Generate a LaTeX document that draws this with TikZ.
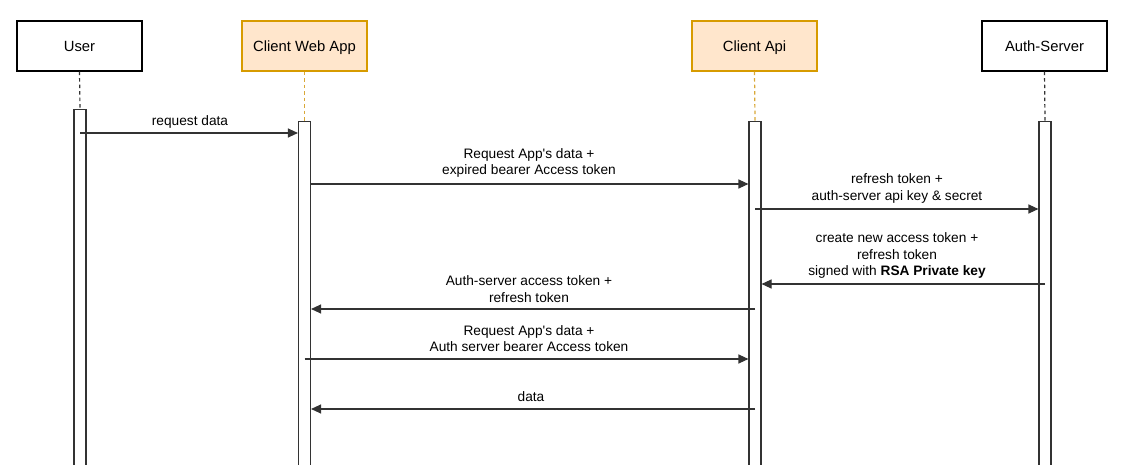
\documentclass[tikz,border=0pt]{standalone}
\usepackage{fontspec}
\setmainfont{Liberation Sans}
\usetikzlibrary{arrows.meta}
\definecolor{orfill}{HTML}{FFE6CC}
\definecolor{orline}{HTML}{D79B00}
\definecolor{dashor}{HTML}{D9A838}
\definecolor{ln}{HTML}{333333}
\begin{document}
\begin{tikzpicture}[x=1pt,y=-1pt,
 actor/.style={draw=black, line width=1.1pt, minimum width=125pt, minimum height=50pt, font=\fontsize{14.8}{17}\selectfont, inner sep=0pt, text height=10.6pt, text depth=0pt, fill=white},
 oractor/.style={actor, draw=orline, fill=orfill},
 bar/.style={draw=ln, line width=1.1pt, fill=white, minimum width=12pt, minimum height=360pt, inner sep=0pt, anchor=north},
 life/.style={line width=1.2pt, dash pattern=on 3.5pt off 3pt, draw=ln},
 orlife/.style={life, draw=dashor},
 msg/.style={draw=ln, line width=1.1pt, -{Triangle[length=10pt,width=9pt]}},
 lbl/.style={font=\fontsize{13.7}{16.5}\selectfont, align=center, inner sep=0pt}
]
\useasboundingbox (0,0) rectangle (1127,465);
\clip (0,0) rectangle (1127,465);
\fill[white] (0,0) rectangle (1127,465);
% actors
\node[actor] (user) at (79.5,46) {User};
\node[oractor] (web) at (304.5,46) {Client Web App};
\node[oractor] (api) at (754.5,46) {Client Api};
\node[actor] (auth) at (1044.5,46) {Auth-Server};
% activation bars
\node[bar] (ubar) at (80,109) {};
\node[bar] (wbar) at (304.5,121) {};
\node[bar] (abar) at (755,121) {};
\node[bar] (sbar) at (1045,121) {};
% lifelines
\draw[life] (user.south) -- (ubar.north);
\draw[orlife] (web.south) -- (wbar.north);
\draw[orlife] (api.south) -- (abar.north);
\draw[life] (auth.south) -- (sbar.north);
% message rows
\coordinate (y1) at (0,133);
\coordinate (y2) at (0,184);
\coordinate (y3) at (0,209);
\coordinate (y4) at (0,284);
\coordinate (y5) at (0,309);
\coordinate (y6) at (0,359);
\coordinate (y7) at (0,409);
% messages
\draw[msg] (ubar.center |- y1) -- (wbar.west |- y1);
\draw[msg] (wbar.east |- y2) -- (abar.west |- y2);
\draw[msg] (abar.center |- y3) -- (sbar.west |- y3);
\draw[msg] (sbar.center |- y4) -- (abar.east |- y4);
\draw[msg] (abar.center |- y5) -- (wbar.east |- y5);
\draw[msg] (wbar.center |- y6) -- (abar.west |- y6);
\draw[msg] (abar.center |- y7) -- (wbar.east |- y7);
% labels
\node[lbl] (l1) at (190,122) {request data};
\node[lbl] (l2) at (529,163) {Request App\textquotesingle s data +\\expired bearer Access token};
\node[lbl] (l3) at (897,188.5) {refresh token +\\auth-server api key \& secret};
\node[lbl] (l4) at (897,255.5) {create new access token +\\refresh token\\signed with \textbf{RSA Private key}};
\node[lbl] (l5) at (529,289) {Auth-server access token +\\refresh token};
\node[lbl] (l6) at (529,338.5) {Request App\textquotesingle s data +\\Auth server bearer Access token};
\node[lbl] (l7) at (531,397) {data};
\end{tikzpicture}
\end{document}
